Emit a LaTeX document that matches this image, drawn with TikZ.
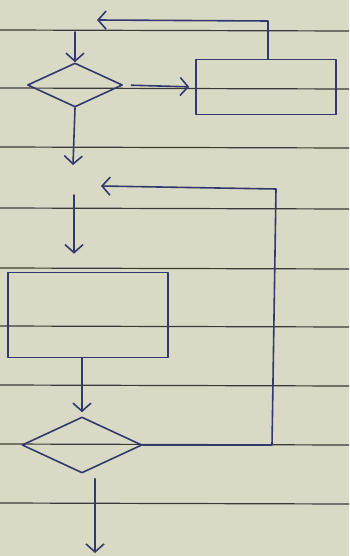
\documentclass[tikz,border=0pt]{standalone}
\usetikzlibrary{shapes.geometric,arrows.meta}
\definecolor{paper}{HTML}{D9DAC6}
\definecolor{rule}{HTML}{3A3A3A}
\definecolor{ink}{HTML}{33386E}
\tikzset{
  pen/.style={draw=ink, line width=1.6pt, line cap=round, line join=round},
  flow/.style={pen, -{Straight Barb[length=8pt,width=18pt,line width=1.6pt]}},
  decision/.style={pen, diamond, inner sep=0pt},
  process/.style={pen, rectangle, inner sep=0pt},
  ruling/.style={draw=rule, line width=1.2pt}
}
\begin{document}
\begin{tikzpicture}[x=1pt,y=-1pt]
  % sheet of ruled paper
  \fill[paper] (0,0) rectangle (349,556);
  \useasboundingbox (0,0) rectangle (349,556);
  \foreach \y in {30,88,147,208,268,326,385,444,503}
    \draw[ruling] (0,\y) -- (349,\y+1);

  % shapes
  \node[decision, minimum width=95pt, minimum height=44pt] (d1) at (75,85) {};
  \node[process, minimum width=140pt, minimum height=55pt] (r1) at (266,87) {};
  \node[process, minimum width=160pt, minimum height=85pt] (r2) at (88,315) {};
  \node[decision, minimum width=120pt, minimum height=56pt] (d2) at (82,445) {};

  % loose ends of the connectors
  \coordinate (inTop) at (75,32);
  \coordinate (topTurn) at (268,21);
  \coordinate (topTip) at (97,20);
  \coordinate (d1Out) at (73,165);
  \coordinate (r2In) at (74,195);
  \coordinate (loopCorner) at (272,445);
  \coordinate (loopTop) at (276,189);
  \coordinate (loopTip) at (101,186);
  \coordinate (exit) at (95,553);

  % connectors
  \draw[flow] (inTop) -- (d1.north);
  \draw[flow, shorten <=8pt, shorten >=6pt] (d1.east) -- (r1.west);
  \draw[flow] (r1.north -| topTurn) -- (topTurn) -- (topTip);
  \draw[flow] (d1.south) -- (d1Out);
  \draw[flow, shorten >=18pt] (r2In) -- (r2.north -| r2In);
  \draw[flow, shorten >=4pt] (r2.south -| d2.north) -- (d2.north);
  \draw[flow] (d2.east) -- (loopCorner) -- (loopTop) -- (loopTip);
  \draw[flow, shorten <=5pt] (d2.south -| exit) -- (exit);
\end{tikzpicture}
\end{document}
